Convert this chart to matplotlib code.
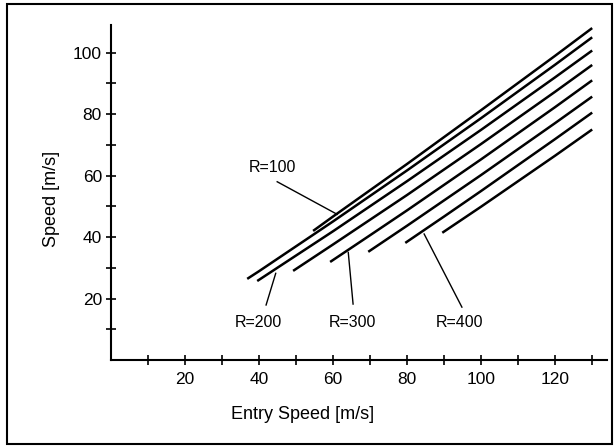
import matplotlib
matplotlib.use("Agg")
import matplotlib.pyplot as plt
from matplotlib.patches import Rectangle

plt.rcParams["font.family"] = ["Liberation Sans", "DejaVu Sans"]

# curves: (entry speed, speed)
curve_x = [
    [54.6, 60, 80, 100, 120, 130],
    [36.8, 40, 60, 80, 100, 120, 130],
    [39.5, 50, 60, 80, 100, 120, 130],
    [49.2, 60, 80, 100, 120, 130],
    [59.2, 70, 80, 100, 120, 130],
    [69.5, 80, 100, 120, 130],
    [79.5, 90, 100, 120, 130],
    [89.5, 100, 110, 120, 130],
]
curve_y = [
    [42.0, 46.7, 63.8, 81.3, 99.0, 108.0],
    [26.4, 28.9, 45.1, 61.7, 78.7, 96.1, 105.0],
    [25.7, 34.0, 41.9, 58.2, 74.9, 92.0, 100.7],
    [29.0, 37.6, 53.7, 70.3, 87.3, 96.0],
    [31.9, 40.6, 48.7, 65.3, 82.3, 91.0],
    [35.2, 43.7, 60.2, 77.1, 85.7],
    [38.1, 46.7, 55.0, 71.9, 80.5],
    [41.4, 49.9, 58.2, 66.5, 75.0],
]

labels = ["R=100", "R=200", "R=300", "R=400"]
label_xy = [(43.5, 62.5), (39.9, 12.2), (65.1, 12.2), (94.2, 12.2)]
leader_from = [(44.9, 58.0), (41.9, 17.9), (65.4, 18.2), (94.8, 17.2)]
leader_to = [(61.1, 47.4), (44.5, 28.2), (64.1, 35.0), (84.6, 41.0)]

x_major = [20, 40, 60, 80, 100, 120]
x_minor = [10, 30, 50, 70, 90, 110, 130]
y_major = [20, 40, 60, 80, 100]
y_minor = [10, 30, 50, 70, 90]

fig = plt.figure(figsize=(6.14, 4.48), dpi=100)
ax = fig.add_axes([111 / 614, 88 / 448, 496 / 614, 335 / 448])

for xs, ys in zip(curve_x, curve_y):
    ax.plot(xs, ys, color="black", lw=1.8, solid_capstyle="butt")

for lab, (tx, ty), (x0, y0), (x1, y1) in zip(labels, label_xy, leader_from, leader_to):
    ax.text(tx, ty, lab, ha="center", va="center", fontsize=11.5)
    ax.plot([x0, x1], [y0, y1], color="black", lw=1.0)

ax.set_xlim(0, 134)
ax.set_ylim(0, 109)
ax.spines["top"].set_visible(False)
ax.spines["right"].set_visible(False)
ax.spines["left"].set_linewidth(1.5)
ax.spines["bottom"].set_linewidth(1.5)

ax.set_xticks(x_major)
ax.set_xticks(x_minor, minor=True)
ax.set_yticks(y_major)
ax.set_yticks(y_minor, minor=True)
ax.tick_params(which="both", direction="inout", length=7, width=1.2, labelsize=12.5)
ax.tick_params(axis="x", pad=5)
ax.tick_params(axis="y", pad=3)

ax.set_xlabel("Entry Speed [m/s]", fontsize=13)
ax.xaxis.set_label_coords(192 / 496, -0.137)
ax.set_ylabel("Speed [m/s]", fontsize=13)
ax.yaxis.set_label_coords(-0.103, 0.48)

fig.patches.append(Rectangle((7 / 614, 4 / 448), 605 / 614, 440 / 448,
                             transform=fig.transFigure, fill=False,
                             edgecolor="black", lw=1.5))

fig.savefig("out.png", dpi=100)
